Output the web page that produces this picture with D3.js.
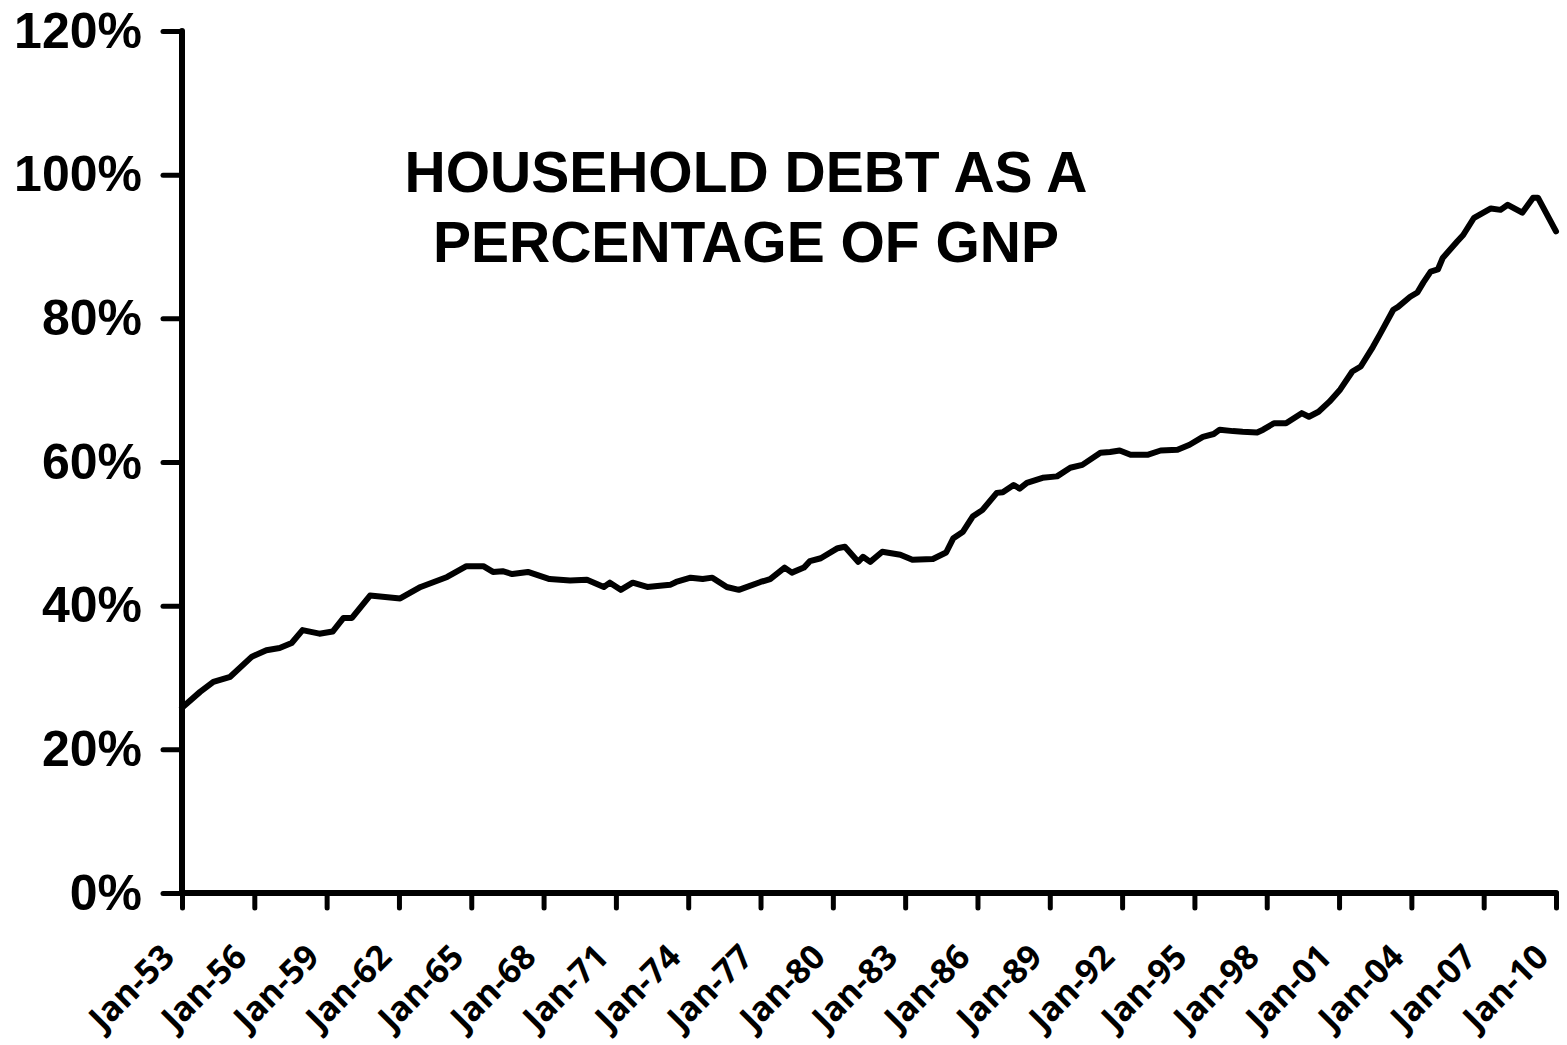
<!DOCTYPE html>
<html>
<head>
<meta charset="utf-8">
<script src="https://cdn.jsdelivr.net/npm/d3@7"></script>
<style>
  body { margin: 0; background: #fff; }
  svg text { font-family: "Liberation Sans", Arial, sans-serif; font-weight: bold; fill: #000; }
</style>
</head>
<body>
<svg id="chart" width="1567" height="1045"></svg>
<script>
// decimal year of each reading
const years = [
  1953.0, 1953.75, 1954.3, 1955.0, 1955.9, 1956.5, 1957.05, 1957.55, 1958.0, 1958.7,
  1959.25, 1959.7, 1960.05, 1960.8, 1962.05, 1962.9, 1964.0, 1964.8, 1965.5, 1965.9,
  1966.3, 1966.7, 1967.35, 1968.25, 1969.1, 1969.8, 1970.5, 1970.75, 1971.2, 1971.7,
  1972.3, 1973.25, 1973.5, 1974.1, 1974.6, 1975.0, 1975.6, 1976.1, 1977.0, 1977.4,
  1978.0, 1978.3, 1978.8, 1979.05, 1979.5, 1980.2, 1980.5, 1981.05, 1981.25, 1981.55,
  1982.05, 1982.8, 1983.3, 1984.15, 1984.7, 1985.0, 1985.4, 1985.8, 1986.2, 1986.8,
  1987.05, 1987.5, 1987.75, 1988.05, 1988.7, 1989.3, 1989.85, 1990.35, 1991.1, 1991.5,
  1991.9, 1992.35, 1993.05, 1993.6, 1994.3, 1994.8, 1995.35, 1995.8, 1996.05, 1996.6,
  1997.0, 1997.6, 1997.85, 1998.3, 1998.8, 1999.45, 1999.75, 2000.15, 2000.6, 2001.05,
  2001.55, 2001.9, 2002.4, 2002.7, 2003.25, 2003.45, 2003.95, 2004.25, 2004.5, 2004.8,
  2005.1, 2005.3, 2005.9, 2006.15, 2006.6, 2007.3, 2007.7, 2008.0, 2008.6, 2009.05,
  2009.25, 2010.0
];

// household debt / GNP, percent
const debtPct = [
  25.8, 28.0, 29.4, 30.1, 32.9, 33.8, 34.1, 34.8, 36.6, 36.1,
  36.4, 38.3, 38.3, 41.4, 41.0, 42.6, 44.0, 45.5, 45.5, 44.7,
  44.8, 44.4, 44.7, 43.7, 43.5, 43.6, 42.6, 43.2, 42.2, 43.2,
  42.6, 42.9, 43.3, 43.9, 43.7, 43.9, 42.6, 42.2, 43.3, 43.7,
  45.3, 44.6, 45.3, 46.2, 46.6, 48.0, 48.2, 46.1, 46.8, 46.1,
  47.5, 47.1, 46.4, 46.5, 47.4, 49.4, 50.3, 52.4, 53.3, 55.7,
  55.8, 56.8, 56.3, 57.1, 57.8, 58.0, 59.2, 59.6, 61.3, 61.4,
  61.6, 61.0, 61.0, 61.6, 61.7, 62.4, 63.5, 63.9, 64.5, 64.3,
  64.2, 64.1, 64.5, 65.4, 65.4, 66.8, 66.3, 67.0, 68.4, 70.1,
  72.6, 73.3, 76.0, 77.8, 81.2, 81.6, 83.0, 83.6, 85.0, 86.5,
  86.8, 88.4, 90.7, 91.6, 94.0, 95.3, 95.1, 95.8, 94.7, 96.8,
  96.8, 92.1
];

const yTicks = [0, 20, 40, 60, 80, 100, 120];
const xTicks = [1953, 1956, 1959, 1962, 1965, 1968, 1971, 1974, 1977, 1980,
                1983, 1986, 1989, 1992, 1995, 1998, 2001, 2004, 2007, 2010];
const titleLines = ["HOUSEHOLD DEBT AS A", "PERCENTAGE OF GNP"];

const svg = d3.select('#chart');
const margin = { top: 31, bottom: 152, right: 11, left: 182 };
const width = +svg.attr('width');
const height = +svg.attr('height');

const xScale = d3.scaleLinear()
    .domain([1953, 2010])
    .range([margin.left, width - margin.right]);

const yScale = d3.scaleLinear()
    .domain([0, 120])
    .range([height - margin.bottom, margin.top]);

const g = svg.append('g');

// y axis
const yAxis = d3.axisLeft(yScale)
    .tickValues(yTicks)
    .tickSize(19)
    .tickPadding(21)
    .tickFormat(d => d + '%');
const yG = g.append('g')
    .attr('transform', `translate(${margin.left},0)`)
    .call(yAxis);

// x axis
const xAxis = d3.axisBottom(xScale)
    .tickValues(xTicks)
    .tickSize(15)
    .tickFormat(d => 'Jan-' + String(d % 100).padStart(2, '0'));
const xG = g.append('g')
    .attr('transform', `translate(0,${yScale(0)})`)
    .call(xAxis);

// thick black axes like the excel original
[yG, xG].forEach(ax => {
    ax.select('.domain').remove();
    ax.selectAll('.tick line')
        .attr('stroke', '#000')
        .attr('stroke-width', 5)
        .attr('stroke-linecap', 'round');
});
g.append('line')
    .attr('x1', margin.left).attr('x2', margin.left)
    .attr('y1', yScale(120)).attr('y2', yScale(0))
    .attr('stroke', '#000').attr('stroke-width', 6).attr('stroke-linecap', 'round');
g.append('line')
    .attr('x1', margin.left).attr('x2', xScale(2010))
    .attr('y1', yScale(0)).attr('y2', yScale(0))
    .attr('stroke', '#000').attr('stroke-width', 6).attr('stroke-linecap', 'round');

yG.selectAll('.tick text')
    .style('font-size', '50px');

// date labels use a rounder sans, slanted 45deg
xG.selectAll('.tick text')
    .style('font-family', '"Noto Sans", "Open Sans", sans-serif')
    .style('font-size', '34px')
    .attr('text-anchor', 'end')
    .attr('dy', null)
    .attr('y', null)
    .attr('transform', 'translate(-6,66) rotate(-45)');

// the series
const line = d3.line()
    .x((d, i) => xScale(years[i]))
    .y(d => yScale(d));

g.append('path')
    .datum(debtPct)
    .attr('fill', 'none')
    .attr('stroke', '#000')
    .attr('stroke-width', 6)
    .attr('stroke-linejoin', 'round')
    .attr('stroke-linecap', 'round')
    .attr('d', line);

// title inside the plot
g.selectAll('.title')
    .data(titleLines)
    .enter()
    .append('text')
    .attr('class', 'title')
    .attr('x', 746)
    .attr('y', (d, i) => 192 + i * 70)
    .attr('text-anchor', 'middle')
    .style('font-size', '57px')
    .text(d => d);
</script>
</body>
</html>
